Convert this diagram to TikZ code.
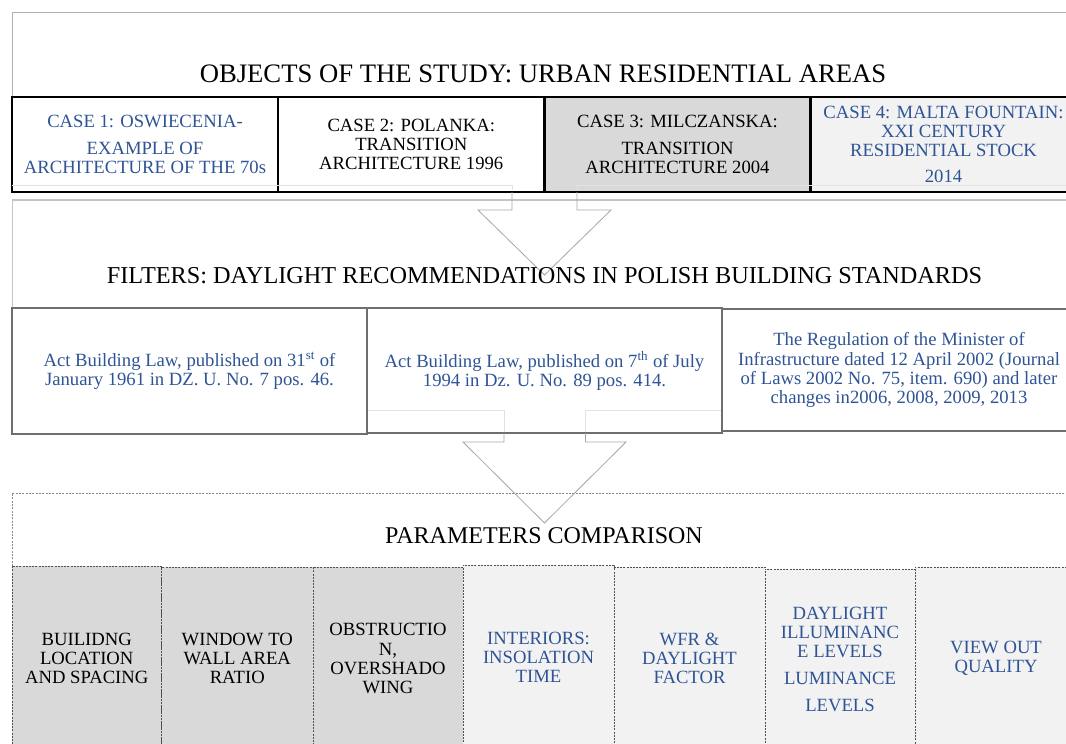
\documentclass[tikz,border=0pt]{standalone}
\usepackage{fontspec}
\setmainfont{Liberation Serif}
\definecolor{tblue}{HTML}{2F5496}
\definecolor{gfill}{HTML}{D9D9D9}
\definecolor{lfill}{HTML}{F2F2F2}
\definecolor{secgray}{HTML}{AFAFAF}
\definecolor{filgray}{HTML}{C4C4C4}
\definecolor{lawgray}{HTML}{6E6E6E}
\definecolor{pargray}{HTML}{505050}
\definecolor{dotgray}{HTML}{8A8A8A}
\definecolor{arrgray}{HTML}{A6A6A6}
\definecolor{faint}{HTML}{E2E2E2}
\newcommand\boxfont{\fontsize{14pt}{14.3pt}\selectfont}
\begin{document}
\begin{tikzpicture}[x=0.75pt,y=-0.75pt,
  box/.style 2 args={rectangle, minimum width=#1*0.75pt, minimum height=#2*0.75pt,
    inner sep=0pt, align=center, font=\boxfont},
  casebox/.style={draw=black, line width=2.2pt},
  lawbox/.style={draw=lawgray, line width=0.8pt, fill=white, text=tblue},
  parbox/.style={draw=pargray, line width=0.6pt, dash pattern=on 1.5pt off 0.9pt},
  heading/.style={inner sep=0pt, font=\fontsize{#1}{#1}\selectfont},
  blockarrow/.style={draw=arrgray, line width=0.6pt},
  faintline/.style={draw=faint, line width=0.6pt}
]
\useasboundingbox (0,0) rectangle (1066,743);
\clip (0,0) rectangle (1066,743);

% ---- section 1: objects of the study
\draw[secgray, line width=0.75pt] (12,97) -- (12,12.3) -- (1070,12.3);
\node[heading=20pt] (t1) at (543,74) {OBJECTS OF THE STUDY: URBAN RESIDENTIAL AREAS};

\node[box={266}{95}, casebox, fill=white, text=tblue] (c1) at (145,144.5)
  {CASE 1: OSWIECENIA-\\[5.5pt]EXAMPLE OF\\ARCHITECTURE OF THE 70s};
\node[box={266.5}{95}, casebox, fill=white] (c2) at (411.25,144.5)
  {CASE 2: POLANKA:\\TRANSITION\\ARCHITECTURE 1996};
\node[box={266}{95}, casebox, fill=gfill] (c3) at (677.5,144.5)
  {CASE 3: MILCZANSKA:\\[5.5pt]TRANSITION\\ARCHITECTURE 2004};
\node[box={266}{95}, casebox, fill=lfill, text=tblue] (c4) at (943.5,144.5)
  {CASE 4: MALTA FOUNTAIN:\\XXI CENTURY\\RESIDENTIAL STOCK\\[5.5pt]2014};
\draw[faintline] (12,185) -- (512,185) -- (512,190);
\draw[faintline] (1070,185) -- (577,185) -- (577,190);

% ---- section 2: filters
\draw[filgray, line width=1.2pt] (1070,200) -- (12,200);
\draw[filgray, line width=0.7pt] (12,200) -- (12,308);
\draw[blockarrow] (512,192) -- (512,210) -- (478,210) -- (544.5,275) -- (611,210) -- (577,210) -- (577,192);
\node[heading=18.2pt] (t2) at (544.5,276)
  {FILTERS: DAYLIGHT RECOMMENDATIONS IN POLISH BUILDING STANDARDS};

\node[box={355}{126}, lawbox] (l1) at (189.5,371)
  {Act Building Law, published on 31\textsuperscript{st} of\\January 1961 in DZ. U. No. 7 pos. 46.};
\node[box={355}{125}, lawbox] (l2) at (544.5,370.5)
  {Act Building Law, published on 7\textsuperscript{th} of July\\1994 in Dz. U. No. 89 pos. 414.};
\node[box={354}{122}, lawbox] (l3) at (899,370)
  {The Regulation of the Minister of\\Infrastructure dated 12 April 2002 (Journal\\of Laws 2002 No. 75, item. 690) and later\\changes in2006, 2008, 2009, 2013};
\draw[faintline] (368,410) -- (504,410) -- (504,432);
\draw[faintline] (721,410) -- (585.5,410) -- (585.5,432);

% ---- section 3: parameters
\draw[dotgray, line width=0.6pt, dash pattern=on 1.5pt off 1pt] (12,566) -- (12,493) -- (1070,493);
\draw[blockarrow] (504,433) -- (504,442) -- (463,442) -- (544.5,523) -- (626,442) -- (585.5,442) -- (585.5,433);
\node[heading=18pt] (t3) at (544,536) {PARAMETERS COMPARISON};

\node[box={149.5}{184}, parbox, fill=gfill] (p1) at (86.75,658)
  {BUILIDNG\\LOCATION\\AND SPACING};
\node[box={151.5}{183}, parbox, fill=gfill] (p2) at (237.25,658.5)
  {WINDOW TO\\WALL AREA\\RATIO};
\node[box={150}{183}, parbox, fill=gfill] (p3) at (388,658.5)
  {OBSTRUCTIO\\N,\\OVERSHADO\\WING};
\node[box={151}{185}, parbox, fill=lfill, text=tblue] (p4) at (538.5,657.5)
  {INTERIORS:\\INSOLATION\\TIME};
\node[box={151}{183}, parbox, fill=lfill, text=tblue] (p5) at (689.5,658.5)
  {WFR \&\\DAYLIGHT\\FACTOR};
\node[box={150}{181}, parbox, fill=lfill, text=tblue] (p6) at (840,659.5)
  {DAYLIGHT\\ILLUMINANC\\E LEVELS\\[6pt]LUMINANCE\\[6pt]LEVELS};
\node[box={162}{183}, parbox, fill=lfill, text=tblue] (p7) at (996,658.5)
  {VIEW OUT\\QUALITY};
\end{tikzpicture}
\end{document}
